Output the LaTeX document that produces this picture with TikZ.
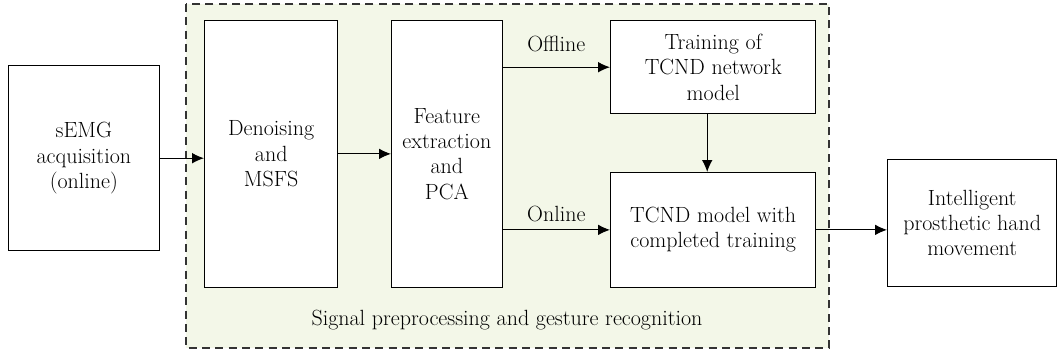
\documentclass[tikz,border=0pt]{standalone}
\usetikzlibrary{positioning}
\usetikzlibrary{calc}
\usetikzlibrary{arrows.meta}
\definecolor{groupgreen}{RGB}{243,247,232}
\tikzset{
    % Filled arrow heads for all connectors
    >={Latex[length=9pt, width=8pt]},
%
    % Plain white process box
    block/.style={draw, line width=0.8pt, fill=white, align=center,
        font=\fontsize{16.5}{19}\selectfont},
%
    % Dashed region holding the processing stages
    group fill/.style={draw=black!80, fill=groupgreen, line width=0.8pt,
        dash pattern=on 6pt off 4pt},
%
    % Connector between blocks
    flow/.style={->, line width=0.75pt},
    % Small labels sitting on connectors
    flow label/.style={font=\fontsize{16.5}{19}\selectfont}}

\begin{document}
\begin{tikzpicture}[x=0.75pt, y=-0.75pt]
\useasboundingbox (0,0) rectangle (1057,353);

% Dashed background region
\draw [group fill] (186,4) rectangle (829,348);
\node [flow label] (group label) at (507,320)
    {Signal preprocessing and gesture recognition};

% Acquisition and preprocessing stages
\node [block, anchor=north west, minimum width=113pt, minimum height=139pt]
    (semg) at (8,65) {sEMG\\acquisition\\(online)};
\node [block, anchor=north west, minimum width=100pt, minimum height=200pt]
    (denoise) at (204,20) {Denoising\\and\\MSFS};
\node [block, anchor=north west, minimum width=83pt, minimum height=200pt]
    (feature) at (391,20) {Feature\\extraction\\and\\PCA};

% Network training and recognition
\node [block, anchor=north west, minimum width=154pt, minimum height=70pt]
    (training) at (610,20) {Training of\\TCND network\\model};
\node [block, anchor=north west, minimum width=154pt, minimum height=86pt]
    (completed) at (610,172) {TCND model with\\completed training};
\node [block, anchor=north west, minimum width=127pt, minimum height=95pt]
    (hand) at (887,159) {Intelligent\\prosthetic hand\\movement};

% Connectors
\draw [flow] (semg.east) -- (semg.east -| denoise.west);
\draw [flow] (denoise) -- (feature);
\draw [flow] (training.west -| feature.east) -- (training.west)
    node [flow label, midway, above=8pt] (offline) {Offline};
\draw [flow] (completed.west -| feature.east) -- (completed.west)
    node [flow label, midway, above=2pt] (online) {Online};
\draw [flow] ($(training.south)+(-6,0)$) -- ($(completed.north)+(-6,0)$);
\draw [flow] (completed.east) -- (completed.east -| hand.west);

\end{tikzpicture}
\end{document}
